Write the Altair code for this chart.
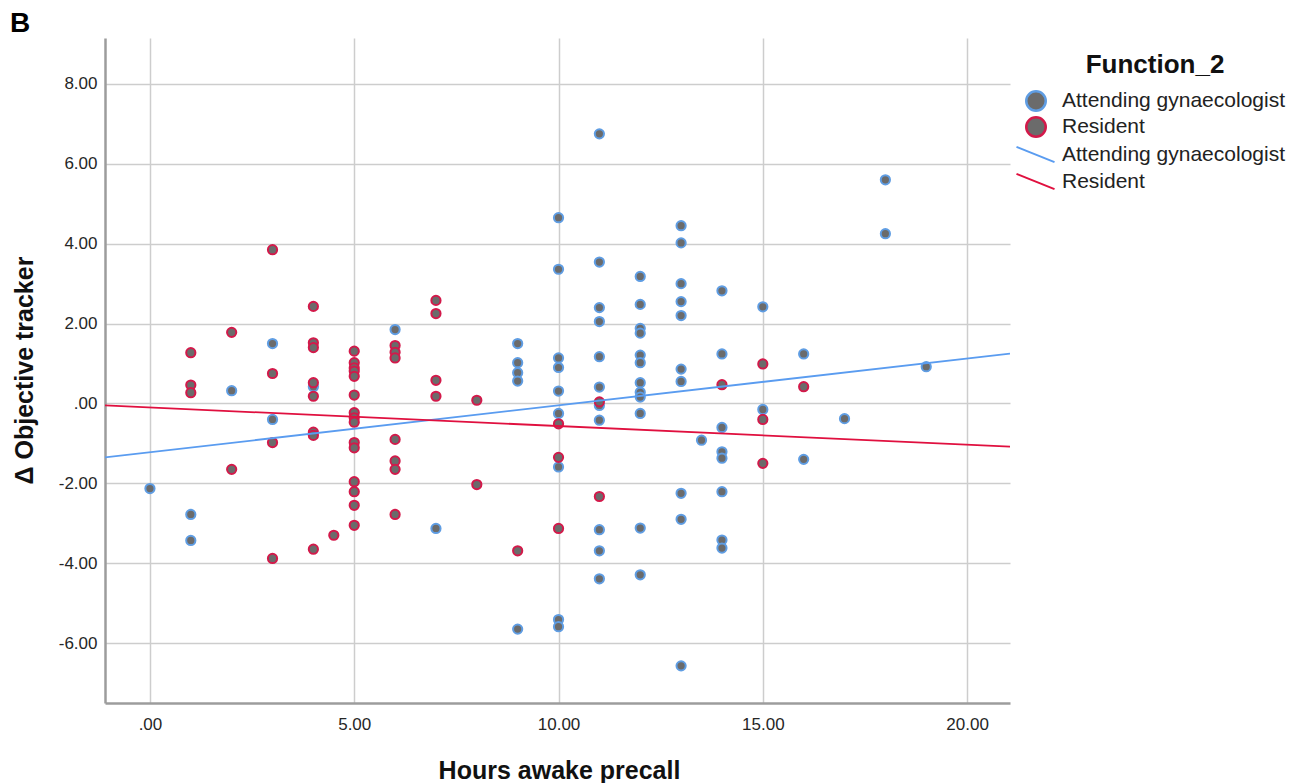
import altair as alt
import pandas as pd

# ---- data ----
groups = ["Attending gynaecologist", "Resident"]

att_hours = [0, 1, 1, 2, 3, 3, 4, 6, 7,
             9, 9, 9, 9, 9,
             10, 10, 10, 10, 10, 10, 10, 10, 10,
             11, 11, 11, 11, 11, 11, 11, 11, 11, 11, 11,
             12, 12, 12, 12, 12, 12, 12, 12, 12, 12, 12, 12,
             13, 13, 13, 13, 13, 13, 13, 13, 13, 13,
             13.5,
             14, 14, 14, 14, 14, 14, 14, 14,
             15, 15, 16, 16, 17, 18, 18, 19]
att_delta = [-2.13, -2.78, -3.43, 0.32, 1.50, -0.40, 0.42, 1.85, -3.13,
             1.50, 1.02, 0.77, 0.56, -5.65,
             4.65, 3.36, 1.14, 0.90, 0.31, -0.25, -1.59, -5.41, -5.59,
             6.75, 3.54, 2.40, 2.05, 1.17, 0.41, -0.05, -0.42, -3.16, -3.69, -4.39,
             3.18, 2.48, 1.88, 1.76, 1.21, 1.02, 0.52, 0.28, 0.16, -0.25, -3.12, -4.29,
             4.45, 4.02, 3.00, 2.55, 2.20, 0.86, 0.55, -2.25, -2.90, -6.57,
             -0.92,
             2.82, 1.24, -0.60, -1.21, -1.37, -2.21, -3.42, -3.62,
             2.42, -0.15, 1.24, -1.40, -0.38, 5.60, 4.25, 0.92]

res_hours = [1, 1, 1, 2, 2, 3, 3, 3, 3,
             4, 4, 4, 4, 4, 4, 4, 4, 4.5,
             5, 5, 5, 5, 5, 5, 5, 5, 5, 5, 5, 5, 5, 5, 5,
             6, 6, 6, 6, 6, 6, 6,
             7, 7, 7, 7, 8, 8, 9, 10, 10, 10, 11, 11,
             14, 15, 15, 15, 16]
res_delta = [1.27, 0.46, 0.27, 1.78, -1.65, 3.85, 0.75, -0.98, -3.88,
             2.43, 1.52, 1.40, 0.52, 0.18, -0.72, -0.80, -3.65, -3.30,
             1.31, 1.02, 0.89, 0.81, 0.68, 0.21, -0.23, -0.36, -0.47, -0.98, -1.11, -1.96, -2.21, -2.55, -3.05,
             1.45, 1.28, 1.14, -0.90, -1.44, -1.65, -2.78,
             2.58, 2.25, 0.58, 0.18, 0.08, -2.03, -3.69, -0.51, -1.35, -3.13, 0.04, -2.33,
             0.47, 0.99, -0.40, -1.50, 0.42]

# fit lines (values read at the two ends of the x axis)
fit_hours = [-1.1, 21.05]
fit_att = [-1.35, 1.25]
fit_res = [-0.05, -1.08]

x_ticks = [0, 5, 10, 15, 20]
y_ticks = [-6, -4, -2, 0, 2, 4, 6, 8]
x_domain = [-1.1, 21.05]
y_domain = [-7.5, 9.15]

# ---- styling ----
FONT = "Liberation Sans"
GRAY = "#6b6b6b"
PT_BLUE = "#5f9de3"
PT_RED = "#d3194a"
LN_BLUE = "#5a9cf0"
LN_RED = "#e0103f"

df = pd.DataFrame({
    "hours": att_hours + res_hours,
    "delta": att_delta + res_delta,
    "Function_2": [groups[0]] * len(att_hours) + [groups[1]] * len(res_hours),
})
fit_df = pd.DataFrame({
    "hours": fit_hours + fit_hours,
    "delta": fit_att + fit_res,
    "Fit line": [groups[0]] * 2 + [groups[1]] * 2,
})

lab_expr = "datum.value == 0 ? '.00' : (datum.value < 0 ? '-' : '') + format(abs(datum.value), '.2f')"

x_enc = alt.X("hours:Q",
              scale=alt.Scale(domain=x_domain, nice=False, zero=False),
              axis=alt.Axis(values=x_ticks, labelExpr=lab_expr, title="Hours awake precall",
                            labelPadding=13, titleX=454, titleY=75, titleAlign="center",
                            titleBaseline="alphabetic"))
y_enc = alt.Y("delta:Q",
              scale=alt.Scale(domain=y_domain, nice=False, zero=False),
              axis=alt.Axis(values=y_ticks, labelExpr=lab_expr, title="Δ Objective tracker",
                            labelPadding=8, titleX=-73, titleY=332, titleAngle=270,
                            titleAlign="center", titleBaseline="alphabetic"))

points = alt.Chart(df).mark_point(
    shape="circle", filled=True, fill=GRAY, size=85, strokeWidth=2, opacity=1
).encode(
    x=x_enc, y=y_enc,
    stroke=alt.Stroke("Function_2:N",
                      scale=alt.Scale(domain=groups, range=[PT_BLUE, PT_RED]),
                      legend=alt.Legend(title="Function_2", orient="none", legendX=920, legendY=14,
                                        symbolType="circle", symbolSize=380,
                                        symbolFillColor=GRAY, symbolStrokeWidth=2.5,
                                        titleAnchor="middle", titlePadding=12, rowPadding=-4,
                                        labelOffset=15, labelLimit=400)),
)

lines = alt.Chart(fit_df).mark_line(strokeWidth=1.8, clip=True).encode(
    x=alt.X("hours:Q"), y=alt.Y("delta:Q"),
    color=alt.Color("Fit line:N",
                    scale=alt.Scale(domain=groups, range=[LN_BLUE, LN_RED]),
                    legend=alt.Legend(title=None, orient="none", legendX=920, legendY=106,
                                      symbolType="M-2,-0.8L2,0.8", symbolSize=361,
                                      symbolStrokeWidth=2, rowPadding=2, labelOffset=16,
                                      labelLimit=400)),
)

chart = alt.layer(points, lines).resolve_scale(color="independent", stroke="independent").properties(
    width=905, height=665,
    autosize="none",
    padding={"left": 97, "top": 30, "right": 280, "bottom": 80},
    title=alt.TitleParams("B", anchor="start", frame="group", dx=-95, offset=0,
                          fontSize=28, fontWeight="bold", font=FONT, color="#000000"),
).configure_view(stroke=None).configure_axis(
    domain=True, domainColor="#9c9c9c", domainWidth=2.5,
    ticks=False, tickSize=0,
    grid=True, gridColor="#cdcdcd", gridWidth=1.5,
    labelFont=FONT, labelFontSize=17, labelColor="#262626",
    titleFont=FONT, titleFontSize=25, titleFontWeight="bold", titleColor="#111111",
).configure_legend(
    labelFont=FONT, labelFontSize=21, labelColor="#222222",
    titleFont=FONT, titleFontSize=26, titleFontWeight="bold", titleColor="#111111",
    padding=0,
)

chart.save("out.html", embed_options={"renderer": "svg", "actions": False})
